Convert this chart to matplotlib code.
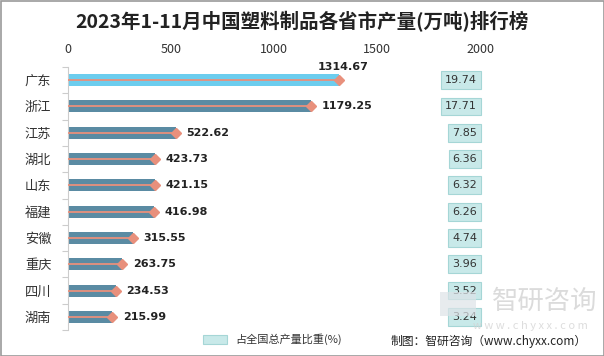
import matplotlib
matplotlib.use("Agg")
import matplotlib.pyplot as plt
from matplotlib.patches import Rectangle
import matplotlib.transforms as mtransforms

plt.rcParams['font.family'] = ['Noto Sans CJK SC', 'DejaVu Sans']

provinces = ["广东", "浙江", "江苏", "湖北", "山东", "福建", "安徽", "重庆", "四川", "湖南"]
output = [1314.67, 1179.25, 522.62, 423.73, 421.15, 416.98, 315.55, 263.75, 234.53, 215.99]
share = [19.74, 17.71, 7.85, 6.36, 6.32, 6.26, 4.74, 3.96, 3.52, 3.24]
xticks = [0, 500, 1000, 1500, 2000]

title = "2023年1-11月中国塑料制品各省市产量(万吨)排行榜"
legend_label = "占全国总产量比重(%)"
source = "制图：智研咨询（www.chyxx.com）"

W, H = 604, 356
fig = plt.figure(figsize=(W/100, H/100), dpi=100)
fig.patch.set_facecolor('white')
ax = fig.add_axes([68/W, 1-330/H, (480-68)/W, (330-67)/H])

n = len(provinces)
ys = list(range(n))
colors = ['#6ccdee'] + ['#5a8ba3'] * (n-1)
ax.barh(ys, output, height=0.46, color=colors, zorder=2)
for y, v in zip(ys, output):
    ax.plot([0, v], [y, y], color='#e8907c', lw=1.3, zorder=3, solid_capstyle='butt')
    ax.plot([v], [y], marker='D', color='#e8907c', markersize=5.5, zorder=4)
for i, (y, v) in enumerate(zip(ys, output)):
    if i == 0:
        ax.text(v + 20, y - 0.5, f"{v:.2f}", ha='center', va='center', fontsize=8,
                fontweight='bold', color='#222222', family='DejaVu Sans')
    else:
        ax.text(v + 50, y, f"{v:.2f}", ha='left', va='center', fontsize=8,
                fontweight='bold', color='#222222', family='DejaVu Sans')

trans = mtransforms.blended_transform_factory(ax.transAxes, ax.transData)
for y, s in zip(ys, share):
    ax.text(0.993, y, f"{s:.2f}", transform=trans, ha='right', va='center', fontsize=8,
            color='#333333', family='DejaVu Sans',
            bbox=dict(boxstyle='square,pad=0.35', fc='#c8e9e9', ec='#a5d6d6', lw=0.8))

ax.set_xlim(0, 2000)
ax.set_ylim(n - 0.5, -0.5)
ax.xaxis.tick_top()
ax.set_xticks(xticks)
ax.set_xticklabels([str(t) for t in xticks], fontsize=9, color='#333333')
ax.tick_params(axis='x', length=0, pad=8)
ax.set_yticks(ys)
ax.set_yticklabels(provinces, fontsize=9.5, color='#333333')
ax.set_yticks([i - 0.5 for i in range(n + 1)], minor=True)
ax.tick_params(axis='y', which='major', length=0, pad=12)
ax.tick_params(axis='y', which='minor', length=4, color='#cccccc', width=0.8)
for sp in ['top', 'right', 'bottom']:
    ax.spines[sp].set_visible(False)
ax.spines['left'].set_color('#cccccc')
ax.spines['left'].set_linewidth(0.8)

fig.text(302/W, 1-22/H, title, ha='center', va='center', fontsize=14,
         fontweight='bold', color='#222222')

# watermark
fig.text(545/W, 1-301/H, "智研咨询", ha='center', va='center', fontsize=19,
         color='#cfcfcf', alpha=0.75, zorder=0)
fig.text(530/W, 1-326/H, "w w w . c h y x x . c o m", ha='center', va='center', fontsize=8,
         color='#d2d2d2', alpha=0.75)
fig.patches.append(Rectangle((440/W, 1-316/H), 36/W, 24/H, transform=fig.transFigure,
                             fc='#dde3e8', ec='none', alpha=0.7, zorder=0))

# legend
fig.patches.append(Rectangle((203/W, 1-344/H), 24/W, 9/H, transform=fig.transFigure,
                             fc='#c8e9e9', ec='#a5d6d6', lw=0.8))
fig.text(235/W, 1-339/H, legend_label, ha='left', va='center', fontsize=8, color='#333333')
fig.text(391/W, 1-341/H, source, ha='left', va='center', fontsize=8.5, color='#222222')

fig.patches.append(Rectangle((0.5/W, 0.5/H), 1-1/W, 1-1/H, transform=fig.transFigure,
                             fc='none', ec='#9a9a9a', lw=1.2))

fig.savefig('out.png', dpi=100)
